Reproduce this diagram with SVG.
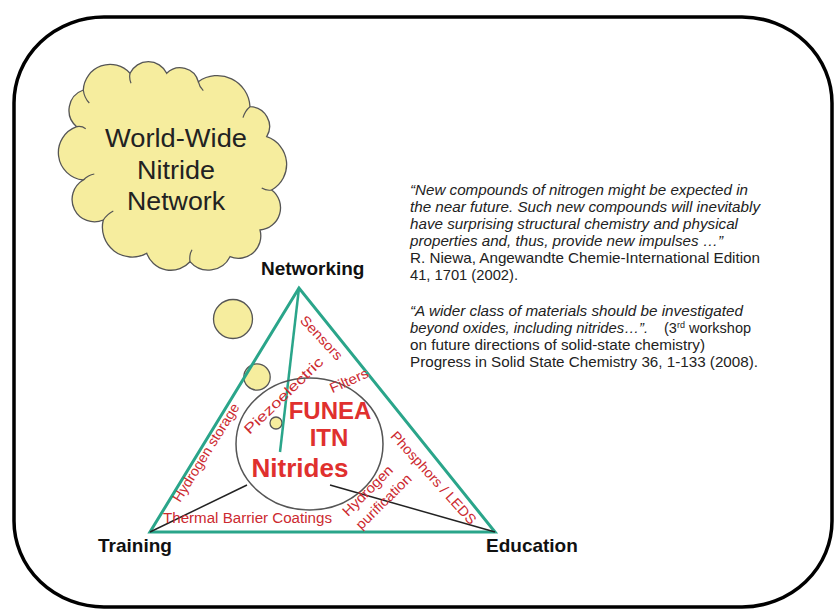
<svg xmlns="http://www.w3.org/2000/svg" width="834" height="609" viewBox="0 0 834 609">
<style>
.frame{fill:none;stroke:#000;stroke-width:3.5}
.yel{fill:#f6ed9e;stroke:#555;stroke-width:1.3}
.crease{fill:none;stroke:#555;stroke-width:1.2}
.tri{fill:none;stroke:#2aa58a;stroke-width:3;stroke-linejoin:miter}
.green{stroke:#2aa58a;stroke-width:2.5;fill:none}
.conn{stroke:#222;stroke-width:1.5;fill:none}
.ring{fill:none;stroke:#555;stroke-width:1.5}
.cloudtxt{font-family:"Liberation Sans",Arial,sans-serif;font-size:25px;fill:#222;text-anchor:middle}
.node{font-family:"Liberation Sans",Arial,sans-serif;font-size:19px;font-weight:bold;fill:#111}
.lab{font-family:"Liberation Sans",Arial,sans-serif;font-size:14px;fill:#cc2a30;text-anchor:middle}
.big{font-family:"Liberation Sans",Arial,sans-serif;font-weight:bold;fill:#e0302e;text-anchor:middle}
.q{font-family:"Liberation Sans",Arial,sans-serif;font-size:14.5px;fill:#222}
.it{font-style:italic}
</style>
<rect class="frame" x="14" y="17" width="818" height="590" rx="90" ry="86"/>

<g id="cloud">
<path class="yel" d="M83.3,90 A26.8,26.8 0 0 1 130,73.3 A20.3,20.3 0 0 1 166.7,73.3 A18.8,18.8 0 0 1 198.3,81.7 A32.7,32.7 0 0 1 250,106.7 A19.8,19.8 0 0 1 266.7,136.7 A29.3,29.3 0 0 1 271.7,190 A22.3,22.3 0 0 1 260,230 A22.4,22.4 0 0 1 230,256.7 A24.2,24.2 0 0 1 190,261.7 A25.7,25.7 0 0 1 146.7,253.3 A29.8,29.8 0 0 1 103.3,220 A22.4,22.4 0 0 1 83.3,180 A27.5,27.5 0 0 1 76.7,126.7 A21.5,21.5 0 0 1 83.3,90 Z"/>
<path class="crease" d="M83.3,90 q1,8 6,13 M130,73.3 q-1,5 1,10 M198.3,81.7 q1,5 5,9 M250,106.7 q-5,4 -7,11 M271.7,190 q-5,1 -10,-2 M190,261.7 q-1,-7 2,-12 M103.3,220 q4,-6 10,-9 M83.3,180 q5,-5 11,-6 M76.7,126.7 q5,-1 9,2"/>
<text class="cloudtxt" x="176" y="147" textLength="142" lengthAdjust="spacingAndGlyphs">World-Wide</text>
<text class="cloudtxt" x="176" y="179" textLength="78" lengthAdjust="spacingAndGlyphs">Nitride</text>
<text class="cloudtxt" x="176" y="210" textLength="98" lengthAdjust="spacingAndGlyphs">Network</text>
</g>

<g id="bubbles">
<circle class="yel" cx="233" cy="319" r="19.5"/>
<circle class="yel" cx="257" cy="377" r="13.2"/>
<circle class="yel" cx="276" cy="423" r="6"/>
</g>

<g id="triangle">
<polygon class="tri" points="299,288 150,532 495,532"/>
</g>

<g id="connectors">
<line class="green" x1="299" y1="288" x2="280" y2="452"/>
<line class="conn" x1="247" y1="485" x2="150" y2="532"/>
<line class="conn" x1="330" y1="485" x2="495" y2="532"/>
</g>

<g id="center">
<ellipse class="ring" cx="309.5" cy="444" rx="73.5" ry="66"/>
<text class="big" x="330" y="419" font-size="24">FUNEA</text>
<text class="big" x="329" y="446" font-size="24">ITN</text>
<text class="big" x="300" y="477" font-size="26">Nitrides</text>
</g>

<g id="applications">
<text class="lab" transform="translate(318,341) rotate(47)" textLength="55" lengthAdjust="spacingAndGlyphs">Sensors</text>
<text class="lab" transform="translate(287,399) rotate(-44)" textLength="104" lengthAdjust="spacingAndGlyphs">Piezoelectric</text>
<text class="lab" transform="translate(351,385) rotate(-24)" textLength="41" lengthAdjust="spacingAndGlyphs">Filters</text>
<text class="lab" transform="translate(210,455) rotate(-58)" textLength="113" lengthAdjust="spacingAndGlyphs">Hydrogen storage</text>
<text class="lab" x="247.5" y="523" textLength="169" lengthAdjust="spacingAndGlyphs">Thermal Barrier Coatings</text>
<text class="lab" transform="translate(371,494) rotate(-45)" textLength="65" lengthAdjust="spacingAndGlyphs">Hydrogen</text>
<text class="lab" transform="translate(387,505) rotate(-44.5)" textLength="72" lengthAdjust="spacingAndGlyphs">purification</text>
<text class="lab" transform="translate(430,481) rotate(48)" textLength="120" lengthAdjust="spacingAndGlyphs">Phosphors / LEDS</text>
</g>

<g id="node-networking"><text class="node" x="261" y="275">Networking</text></g>
<g id="node-training"><text class="node" x="98" y="552">Training</text></g>
<g id="node-education"><text class="node" x="486" y="552">Education</text></g>

<g id="quotes">
<text class="q it" x="410" y="195" textLength="338" lengthAdjust="spacingAndGlyphs">“New compounds of nitrogen might be expected in</text>
<text class="q it" x="410" y="212" textLength="350" lengthAdjust="spacingAndGlyphs">the near future. Such new compounds will inevitably</text>
<text class="q it" x="410" y="229" textLength="328" lengthAdjust="spacingAndGlyphs">have surprising structural chemistry and physical</text>
<text class="q it" x="410" y="246" textLength="313" lengthAdjust="spacingAndGlyphs">properties and, thus, provide new impulses …”</text>
<text class="q" x="410" y="263" textLength="350" lengthAdjust="spacingAndGlyphs">R. Niewa, Angewandte Chemie-International Edition</text>
<text class="q" x="410" y="280" textLength="108" lengthAdjust="spacingAndGlyphs">41, 1701 (2002).</text>
<text class="q it" x="410" y="316" textLength="333" lengthAdjust="spacingAndGlyphs">“A wider class of materials should be investigated</text>
<text class="q it" x="410" y="333" textLength="238" lengthAdjust="spacingAndGlyphs">beyond oxides, including nitrides…”.</text>
<text class="q" x="664" y="333">(3<tspan font-size="9" dy="-5">rd</tspan><tspan dy="5"> workshop</tspan></text>
<text class="q" x="410" y="350" textLength="295" lengthAdjust="spacingAndGlyphs">on future directions of solid-state chemistry)</text>
<text class="q" x="410" y="367" textLength="348" lengthAdjust="spacingAndGlyphs">Progress in Solid State Chemistry 36, 1-133 (2008).</text>
</g>
</svg>
